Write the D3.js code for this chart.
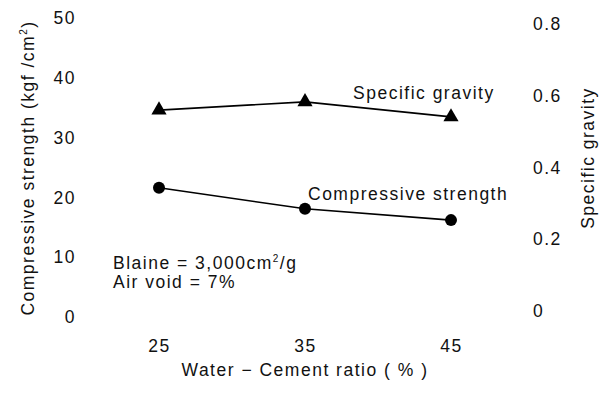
<!DOCTYPE html>
<html>
<head>
<meta charset="utf-8">
<script src="https://cdn.jsdelivr.net/npm/d3@7"></script>
<style>
  body { margin: 0; background: #fff; }
  svg text { font-family: "Liberation Sans", Arial, sans-serif; font-size: 17.5px; fill: #111; letter-spacing: 1.5px; }
</style>
</head>
<body>
<div id="chart"></div>
<script>
// data
var ratios = [25, 35, 45];
var strength = [21.6, 18.1, 16.2];        // kgf/cm2, left axis
var gravity = [0.56, 0.583, 0.541];       // right axis
var leftTicks = [0, 10, 20, 30, 40, 50];
var rightTicks = [0, 0.2, 0.4, 0.6, 0.8];

var width = 609;
var height = 394;

var svg = d3.select("#chart").append("svg")
  .attr("width", width)
  .attr("height", height);

svg.append("rect").attr("width", width).attr("height", height).attr("fill", "#fff");

var x = d3.scaleLinear().domain([25, 45]).range([159, 451]);
var yL = d3.scaleLinear().domain([0, 50]).range([317, 18]);
var yR = d3.scaleLinear().domain([0, 0.8]).range([311, 24]);

//axes, labels only (no lines)
var gl = svg.append("g")
  .attr("transform", "translate(76,0)")
  .call(d3.axisLeft(yL).tickValues(leftTicks).tickSize(0).tickPadding(0));
var gr = svg.append("g")
  .attr("transform", "translate(533,0)")
  .call(d3.axisRight(yR).tickValues(rightTicks).tickSize(0).tickPadding(0)
    .tickFormat(function(d) { return d === 0 ? "0" : d3.format(".1f")(d); }));
var gb = svg.append("g")
  .attr("transform", "translate(0,336)")
  .call(d3.axisBottom(x).tickValues(ratios).tickSize(0).tickPadding(4).tickFormat(d3.format("d")));

[gl, gr, gb].forEach(function(g) {
  g.attr("font-family", null).attr("font-size", null);
  g.select(".domain").remove();
  g.selectAll("text").attr("fill", "#111");
});

var sd = ratios.map(function(r, i) { return {r: r, v: strength[i]}; });
var gd = ratios.map(function(r, i) { return {r: r, v: gravity[i]}; });

//strength line and dots
svg.append("path")
  .datum(sd)
  .attr("fill", "none")
  .attr("stroke", "#000")
  .attr("stroke-width", 1.6)
  .attr("d", d3.line().x(function(d) { return x(d.r); }).y(function(d) { return yL(d.v); }));
svg.selectAll(".dot")
  .data(sd)
  .enter().append("circle")
  .attr("cx", function(d) { return x(d.r); })
  .attr("cy", function(d) { return yL(d.v); })
  .attr("r", 6)
  .attr("fill", "#000");

//gravity line and triangles
svg.append("path")
  .datum(gd)
  .attr("fill", "none")
  .attr("stroke", "#000")
  .attr("stroke-width", 1.6)
  .attr("d", d3.line().x(function(d) { return x(d.r); }).y(function(d) { return yR(d.v); }));
svg.selectAll(".tri")
  .data(gd)
  .enter().append("path")
  .attr("d", d3.symbol().type(d3.symbolTriangle).size(100))
  .attr("transform", function(d) { return "translate(" + x(d.r) + "," + yR(d.v) + ")"; })
  .attr("fill", "#000");

//series labels
svg.append("text").attr("x", 353).attr("y", 99).text("Specific gravity");
svg.append("text").attr("x", 308).attr("y", 200).text("Compressive strength");

//notes
var b = svg.append("text").attr("x", 113).attr("y", 269);
b.append("tspan").text("Blaine = 3,000cm");
b.append("tspan").attr("dy", -7).style("font-size", "10px").text("2");
b.append("tspan").attr("dy", 7).text("/g");
svg.append("text").attr("x", 113).attr("y", 288).text("Air void = 7%");

//axis titles
svg.append("text")
  .attr("x", 305).attr("y", 376)
  .attr("text-anchor", "middle")
  .text("Water \u2212 Cement ratio ( % )");

var lt = svg.append("text")
  .attr("transform", "translate(34,168) rotate(-90)")
  .attr("text-anchor", "middle");
lt.append("tspan").text("Compressive strength (kgf /cm");
lt.append("tspan").attr("dy", -7).style("font-size", "10px").text("2");
lt.append("tspan").attr("dy", 7).text(")");

svg.append("text")
  .attr("transform", "translate(594,158) rotate(-90)")
  .attr("text-anchor", "middle")
  .text("Specific gravity");
</script>
</body>
</html>
